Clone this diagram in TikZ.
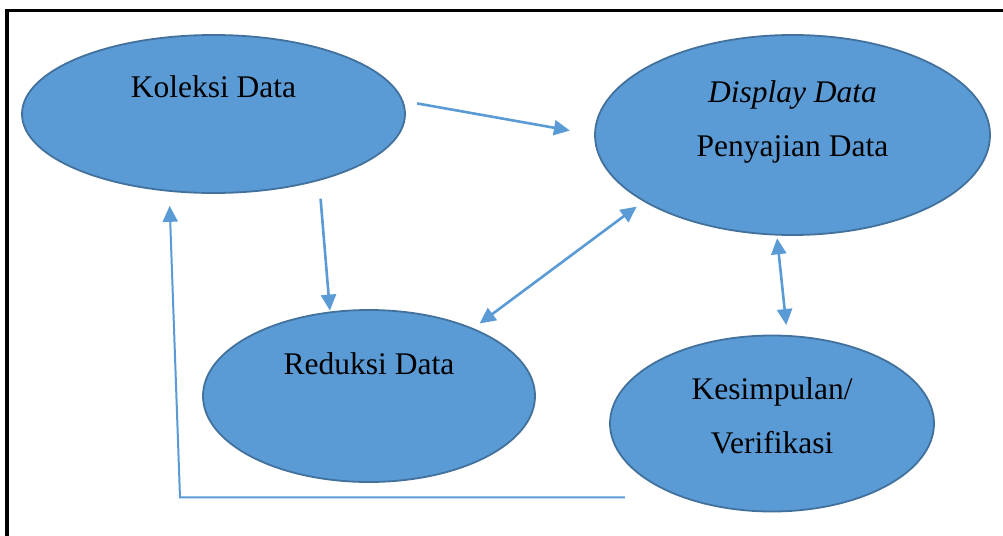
\documentclass[tikz,border=0pt]{standalone}
\usepackage{fontspec}
\setmainfont{Liberation Serif}
\usetikzlibrary{arrows.meta,shapes.geometric}

\definecolor{blok}{HTML}{5B9BD5}
\definecolor{tepi}{HTML}{41719C}

\tikzset{
  tahap/.style={ellipse, draw=tepi, fill=blok, line width=1.8pt, inner sep=0pt, outer sep=0pt},
  teks/.style={font=\fontsize{31.5}{38}\selectfont, anchor=base, inner sep=0pt},
  ujung/.tip={Triangle[length=16pt,width=15pt]},
  panah/.style={draw=blok, line width=2.6pt, -ujung},
  panahdua/.style={draw=blok, line width=2.6pt, ujung-ujung},
  balik/.style={draw=blok, line width=2pt, -ujung},
}

\begin{document}
\begin{tikzpicture}[x=1pt, y=-1pt]

\useasboundingbox (0,0) rectangle (1003,535);
\fill[white] (0,0) rectangle (1003,535);
\draw[line width=3.5pt] (7,540) -- (7,10.5) -- (1010,10.5);

% Define nodes
\node[tahap, minimum width=383pt, minimum height=158pt] (kol)  at (213.5,114) {};
\node[tahap, minimum width=395pt, minimum height=200pt] (disp) at (792.5,135) {};
\node[tahap, minimum width=332pt, minimum height=172pt] (red)  at (369,396)   {};
\node[tahap, minimum width=324pt, minimum height=176pt] (kes)  at (772,423.5) {};

\node[teks] (kolT)  at ([yshift=17pt]kol.center)    {Koleksi Data};
\node[teks] (dispA) at ([yshift=33pt]disp.center)   {\textit{Display Data}};
\node[teks] (dispB) at ([yshift=-21pt]disp.center)  {Penyajian Data};
\node[teks] (redT)  at ([yshift=22pt]red.center)    {Reduksi Data};
\node[teks] (kesA)  at ([yshift=24.5pt]kes.center)  {Kesimpulan/};
\node[teks] (kesB)  at ([yshift=-29.5pt]kes.center) {Verifikasi};

\coordinate (belok) at (180,497.4);

% Connect the nodes
\draw[panah, shorten <=15.1pt, shorten >=25.5pt] (kol.4.31) -- (disp.180.75);
\draw[panah, shorten <=18.8pt, shorten >=1.8pt] (kol.-32.5) -- (red.115.3);
\draw[panahdua, shorten <=8.8pt, shorten >=9.4pt] (red.33.27) -- (disp.204.04);
\draw[panahdua, shorten <=3.6pt, shorten >=10.9pt] (disp.261.72) -- (kes.80.28);
\draw[balik, shorten <=59pt, shorten >=15pt] (kes.220) -- (belok) -- (kol.240.6);

\end{tikzpicture}
\end{document}
